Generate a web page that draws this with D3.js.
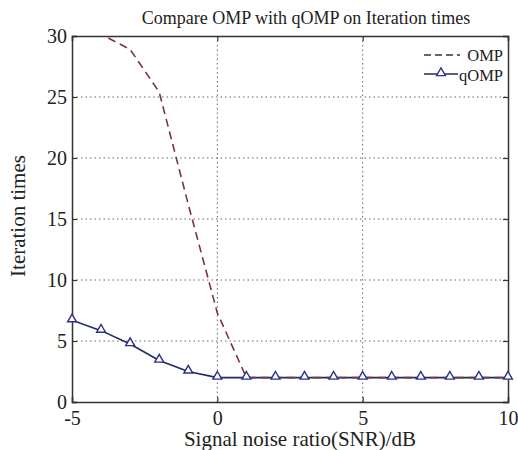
<!DOCTYPE html>
<html>
<head>
<meta charset="utf-8">
<script src="https://cdn.jsdelivr.net/npm/d3@7"></script>
<style>
  body { margin: 0; background: #fff; }
  svg text { font-family: "Liberation Serif", "Times New Roman", serif; fill: #222; }
</style>
</head>
<body>
<div id="chart"></div>
<script>
// chart data
const snr = [-5, -4, -3, -2, -1, 0, 1, 2, 3, 4, 5, 6, 7, 8, 9, 10];
const ompTimes = [31, 30.15, 28.9, 25.4, 16.2, 7.3, 2, 2, 2, 2, 2, 2, 2, 2, 2, 2];
const qompTimes = [6.7, 5.85, 4.75, 3.4, 2.5, 2, 2, 2, 2, 2, 2, 2, 2, 2, 2, 2];
const xTicks = [-5, 0, 5, 10];
const yTicks = [0, 5, 10, 15, 20, 25, 30];

const W = 518, H = 450;
const m = { left: 72, right: 10, top: 36, bottom: 48 };
const iw = W - m.left - m.right, ih = H - m.top - m.bottom;

const svg = d3.select('#chart').append('svg')
  .attr('width', W).attr('height', H);

const x = d3.scaleLinear().domain([-5, 10]).range([0, iw]);
const y = d3.scaleLinear().domain([0, 30]).range([ih, 0]);

const g = svg.append('g').attr('transform', `translate(${m.left},${m.top})`);

g.append('clipPath').attr('id', 'clip')
  .append('rect').attr('width', iw).attr('height', ih);

// dotted grid
g.append('g').selectAll('line').data(xTicks.slice(1, -1)).join('line')
  .attr('x1', d => x(d)).attr('x2', d => x(d)).attr('y1', 0).attr('y2', ih)
  .attr('stroke', '#666').attr('stroke-width', 1).attr('stroke-dasharray', '1.5,3');
g.append('g').selectAll('line').data(yTicks.slice(1, -1)).join('line')
  .attr('y1', d => y(d)).attr('y2', d => y(d)).attr('x1', 0).attr('x2', iw)
  .attr('stroke', '#666').attr('stroke-width', 1).attr('stroke-dasharray', '1.5,3');

// axes, ticks inward, plain hyphen for negatives
const fmt = d => String(d);
const xAxis = g.append('g').attr('transform', `translate(0,${ih})`)
  .call(d3.axisBottom(x).tickValues(xTicks).tickSize(-5).tickPadding(9).tickFormat(fmt));
const xTop = g.append('g')
  .call(d3.axisTop(x).tickValues(xTicks).tickSize(-5).tickFormat(''));
const yAxis = g.append('g')
  .call(d3.axisLeft(y).tickValues(yTicks).tickSize(-5).tickPadding(5).tickFormat(fmt));
const yRight = g.append('g').attr('transform', `translate(${iw},0)`)
  .call(d3.axisRight(y).tickValues(yTicks).tickSize(-5).tickFormat(''));

[xAxis, xTop, yAxis, yRight].forEach(a => {
  a.select('.domain').attr('stroke', '#333').attr('stroke-width', 1.5);
  a.selectAll('.tick line').attr('stroke', '#333').attr('stroke-width', 1.2);
  a.selectAll('text').attr('font-size', 20).attr('font-family', '"Liberation Serif", serif').attr('fill', '#222');
});

// series
const line = d3.line().x((d, i) => x(snr[i])).y(d => y(d));

const plot = g.append('g').attr('clip-path', 'url(#clip)');
plot.append('path').datum(qompTimes)
  .attr('d', line).attr('fill', 'none')
  .attr('stroke', '#1f2a5e').attr('stroke-width', 1.6);
plot.append('path').datum(ompTimes)
  .attr('d', line).attr('fill', 'none')
  .attr('stroke', '#7a3444').attr('stroke-width', 1.6)
  .attr('stroke-dasharray', '8,5');

const tri = d3.symbol().type(d3.symbolTriangle).size(34);
g.append('g').selectAll('path').data(qompTimes).join('path')
  .attr('d', tri)
  .attr('transform', (d, i) => `translate(${x(snr[i])},${y(d) - 1})`)
  .attr('fill', '#fff').attr('stroke', '#2a2f8a').attr('stroke-width', 1.4);

// legend, text right-aligned against the frame
const lx = 424 - m.left, rx = 503 - m.left;
g.append('line').attr('x1', lx).attr('x2', lx + 36).attr('y1', 19).attr('y2', 19)
  .attr('stroke', '#333').attr('stroke-width', 1.4).attr('stroke-dasharray', '7,4');
g.append('text').attr('x', rx).attr('y', 25).attr('text-anchor', 'end')
  .attr('font-size', 16.5).text('OMP');
g.append('line').attr('x1', lx).attr('x2', lx + 34).attr('y1', 38).attr('y2', 38)
  .attr('stroke', '#1f2a5e').attr('stroke-width', 1.4);
g.append('path').attr('d', tri).attr('transform', `translate(${lx + 17},37)`)
  .attr('fill', '#fff').attr('stroke', '#2a2f8a').attr('stroke-width', 1.3);
g.append('text').attr('x', rx).attr('y', 44.5).attr('text-anchor', 'end')
  .attr('font-size', 16.5).text('qOMP');

// titles
svg.append('text').attr('x', 306).attr('y', 24)
  .attr('text-anchor', 'middle').attr('font-size', 18)
  .text('Compare OMP with qOMP on Iteration times');
svg.append('text').attr('x', 300).attr('y', 446)
  .attr('text-anchor', 'middle').attr('font-size', 21)
  .text('Signal noise ratio(SNR)/dB');
svg.append('text')
  .attr('transform', `translate(25,${216}) rotate(-90)`)
  .attr('text-anchor', 'middle').attr('font-size', 21)
  .text('Iteration times');
</script>
</body>
</html>
